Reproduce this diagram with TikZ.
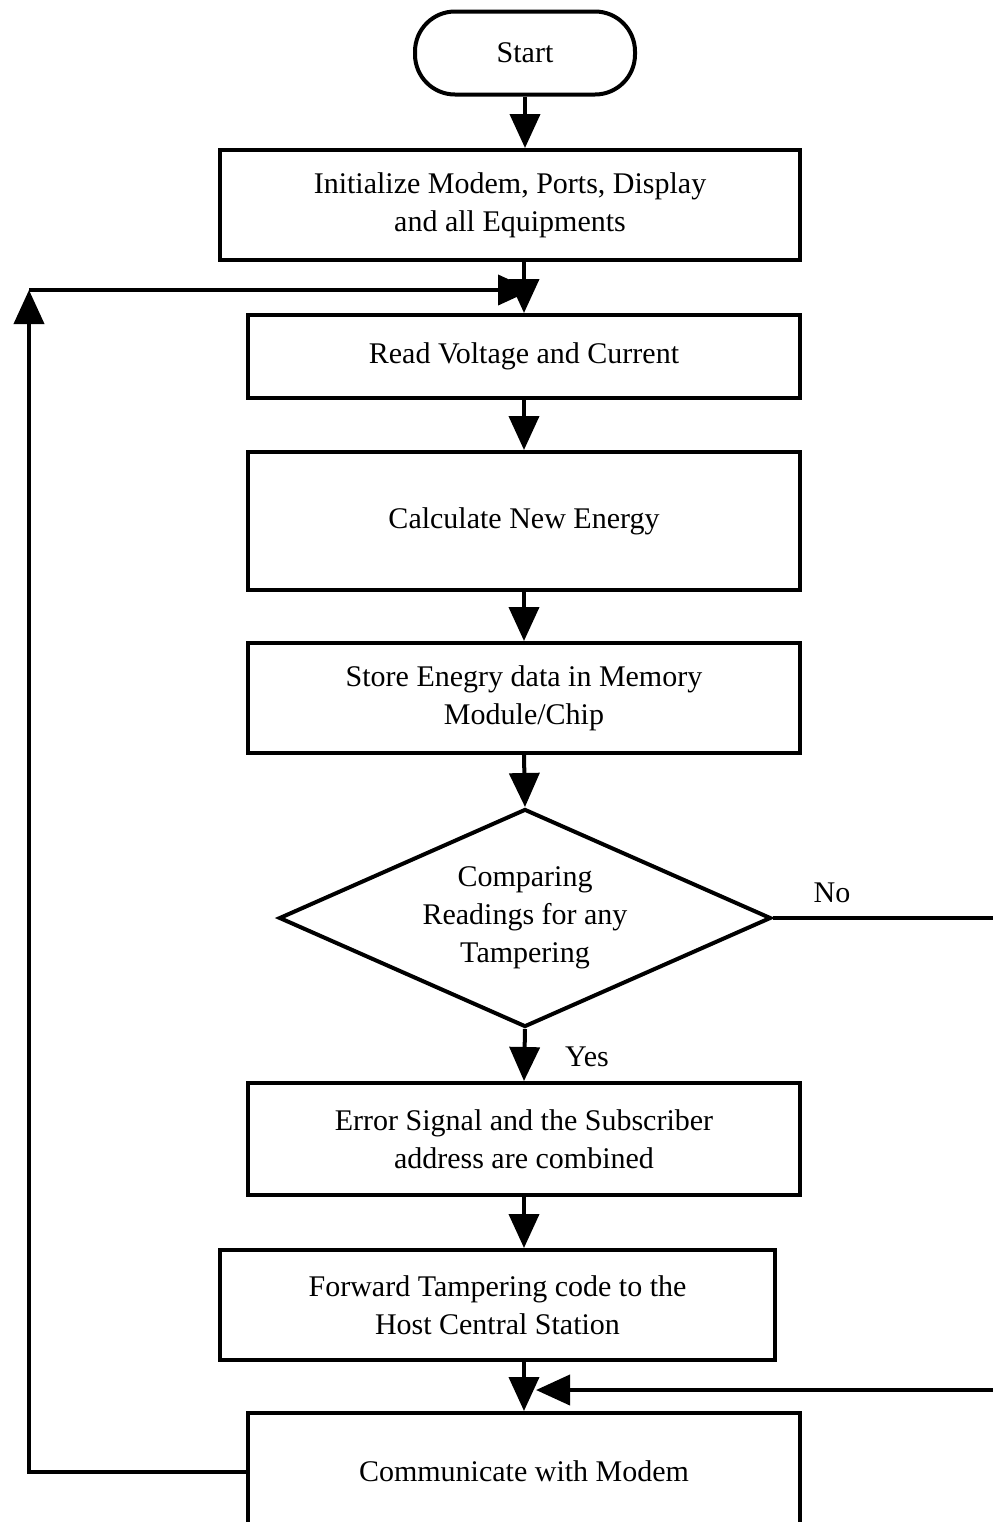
\documentclass[tikz,border=0pt]{standalone}
\usepackage{fontspec}
\setmainfont{Liberation Serif}
\usetikzlibrary{shapes.geometric,arrows.meta}

\begin{document}
\begin{tikzpicture}[x=0.5pt,y=-0.5pt,
    box/.style={draw,line width=2pt,minimum width=276pt,inner sep=0pt,align=center,font=\fontsize{15}{19}\selectfont},
    flow/.style={line width=2pt,-{Triangle[length=17pt,width=15pt]}}]
            \useasboundingbox (0,0) rectangle (992,1522);
            \node[box,rounded corners=20pt,minimum width=110pt,minimum height=41.5pt] (start) at (525,53) {Start};
            \node[box,minimum width=290pt,minimum height=55pt] (init) at (510,205) {Initialize Modem, Ports, Display\\and all Equipments};
            \node[box,minimum height=41.5pt] (read) at (524,356.5) {Read Voltage and Current};
            \node[box,minimum height=69pt] (calc) at (524,521) {Calculate New Energy};
            \node[box,minimum height=55pt] (store) at (524,698) {Store Enegry data in Memory\\Module/Chip};
            \node[draw,diamond,line width=2pt,aspect=2.26,inner sep=0pt,minimum width=246pt,minimum height=109pt,align=center,font=\fontsize{15}{19}\selectfont] (cmp) at (525,918) {Comparing\\Readings for any\\Tampering};
            \node[box,minimum height=56pt] (err) at (524,1139) {Error Signal and the Subscriber\\address are combined};
            \node[box,minimum width=277.5pt,minimum height=55pt] (fwd) at (497.5,1305) {Forward Tampering code to the\\Host Central Station};
            \node[box,minimum height=58.5pt] (comm) at (524,1471.5) {Communicate with Modem};
            \node[font=\fontsize{15}{19}\selectfont] (no) at (832,893) {No};
            \node[font=\fontsize{15}{19}\selectfont] (yes) at (587,1057) {Yes};
            %\coordinate points for the two loops
            \coordinate (loopcorner) at (29,290);
            \coordinate (loopjoin) at (532,290);
            \coordinate (rightedge) at (1010,918);
            \coordinate (retjoin) at (536,1390);

            \draw[flow] (start) -- (start |- init.north);
            \draw[flow] (read.north |- init.south) -- (read.north);
            \draw[flow] (read) -- (calc);
            \draw[flow] (calc) -- (store);
            \draw[flow] (store.south) -- (cmp.north);
            \draw[flow] (cmp.south) -- (err.north);
            \draw[flow] (err.south) -- (err.south |- fwd.north);
            \draw[flow] (err.south |- fwd.south) -- (comm.north);
            \draw[flow] (comm.west) -| (loopcorner);
            \draw[flow] (loopcorner) -- (loopjoin);
            \draw[flow] (cmp.east) -- (rightedge) |- (retjoin);

        \end{tikzpicture}
\end{document}
